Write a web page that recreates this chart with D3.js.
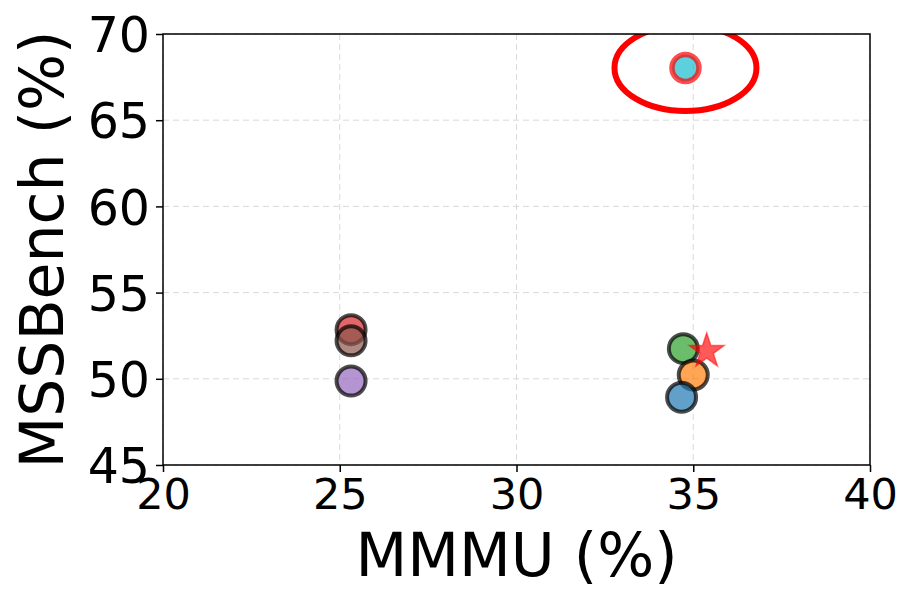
<!DOCTYPE html>
<html><head><meta charset="utf-8">
<script src="https://cdn.jsdelivr.net/npm/d3@7"></script>
<style>body{margin:0;background:#fff}svg{display:block}text{font-family:"DejaVu Sans",sans-serif}</style>
</head><body>
<script>
const mmmu     = [25.32, 25.32, 25.32, 34.72, 35.0, 34.67, 34.78];
const mssbench = [52.85, 52.2, 49.87, 51.75, 50.22, 48.93, 68.03];
const colors   = ["#d62728", "#8c564b", "#9467bd", "#2ca02c", "#ff7f0e", "#1f77b4", "#17becf"];
const starPoint = [35.38, 51.6];
const xTicks = [20, 25, 30, 35, 40];
const yTicks = [45, 50, 55, 60, 65, 70];

const W = 914, H = 604;
const m = {l:163, r:44, t:34, b:139};
const svg = d3.select("body").append("svg").attr("width", W).attr("height", H);
const x = d3.scaleLinear().domain([20, 40]).range([m.l, W - m.r]);
const y = d3.scaleLinear().domain([45, 70]).range([H - m.b, m.t]);

svg.append("defs").append("clipPath").attr("id", "clip")
  .append("rect").attr("x", m.l).attr("y", m.t).attr("width", W - m.l - m.r).attr("height", H - m.t - m.b);

const grid = svg.append("g").attr("stroke", "#d9d9d9").attr("stroke-width", 1).attr("stroke-dasharray", "6,4");
grid.selectAll(".gx").data(xTicks).join("line")
  .attr("x1", d => x(d)).attr("x2", d => x(d)).attr("y1", m.t).attr("y2", H - m.b);
grid.selectAll(".gy").data(yTicks).join("line")
  .attr("y1", d => y(d)).attr("y2", d => y(d)).attr("x1", m.l).attr("x2", W - m.r);

const plot = svg.append("g").attr("clip-path", "url(#clip)");

// points (non-highlighted)
plot.selectAll("circle.pt").data(d3.range(6)).join("circle")
  .attr("class", "pt")
  .attr("cx", i => x(mmmu[i])).attr("cy", i => y(mssbench[i]))
  .attr("r", 14.5)
  .attr("fill", i => colors[i]).attr("fill-opacity", 0.7)
  .attr("stroke", "#000").attr("stroke-opacity", 0.7).attr("stroke-width", 4);

// highlighted point
plot.append("circle")
  .attr("cx", x(mmmu[6])).attr("cy", y(mssbench[6])).attr("r", 13.5)
  .attr("fill", colors[6]).attr("fill-opacity", 0.7)
  .attr("stroke", "#ff0000").attr("stroke-opacity", 0.7).attr("stroke-width", 5.5);

// star
plot.append("path")
  .attr("d", d3.symbol().type(d3.symbolStar).size(380)())
  .attr("transform", `translate(${x(starPoint[0])},${y(starPoint[1])})`)
  .attr("fill", "#ff0000").attr("fill-opacity", 0.65)
  .attr("stroke", "#ff0000").attr("stroke-opacity", 0.5).attr("stroke-width", 1.5);

// ellipse
plot.append("ellipse")
  .attr("cx", x(mmmu[6])).attr("cy", y(mssbench[6]))
  .attr("rx", 71).attr("ry", 43)
  .attr("fill", "none").attr("stroke", "#ff0000").attr("stroke-width", 6);

// axes
const xAxis = svg.append("g").attr("transform", `translate(0,${H - m.b})`)
  .call(d3.axisBottom(x).tickValues(xTicks).tickSize(7).tickPadding(6));
const yAxis = svg.append("g").attr("transform", `translate(${m.l},0)`)
  .call(d3.axisLeft(y).tickValues(yTicks).tickSize(7).tickPadding(6));
[xAxis, yAxis].forEach(a => {
  a.selectAll("text").attr("fill", "#000").attr("font-family", "DejaVu Sans");
  a.selectAll("line").attr("stroke", "#000").attr("stroke-width", 1.5);
  a.select(".domain").remove();
});
xAxis.selectAll("text").attr("font-size", 43);
yAxis.selectAll("text").attr("font-size", 49).attr("dy", "0.36em");

svg.append("rect").attr("x", m.l).attr("y", m.t).attr("width", W - m.l - m.r).attr("height", H - m.t - m.b)
  .attr("fill", "none").attr("stroke", "#000").attr("stroke-width", 1.5);

svg.append("text").attr("x", (m.l + W - m.r) / 2).attr("y", 576)
  .attr("text-anchor", "middle").attr("font-size", 60).text("MMMU (%)");
svg.append("text").attr("transform", `translate(63,${(m.t + H - m.b) / 2}) rotate(-90)`)
  .attr("text-anchor", "middle").attr("font-size", 60).text("MSSBench (%)");
</script>
</body></html>
